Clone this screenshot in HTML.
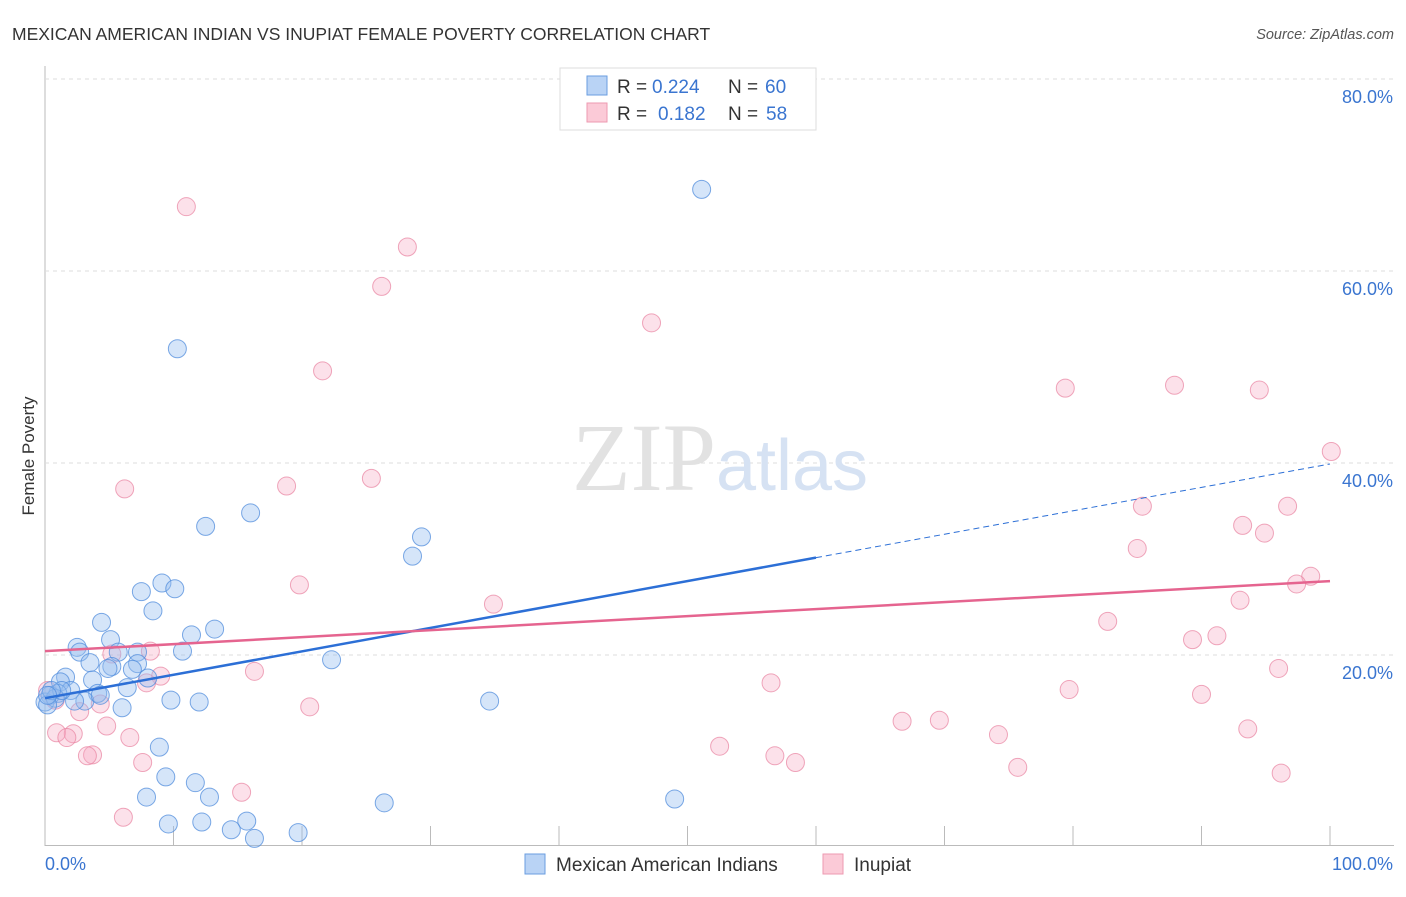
<!DOCTYPE html>
<html><head><meta charset="utf-8"><style>
body{margin:0;background:#fff;font-family:"Liberation Sans",sans-serif}
svg text{font-family:"Liberation Sans",sans-serif}
</style></head><body>
<svg id="c" width="1406" height="892" xmlns="http://www.w3.org/2000/svg">
<text x="12" y="40" font-size="17.5" fill="#333">MEXICAN AMERICAN INDIAN VS INUPIAT FEMALE POVERTY CORRELATION CHART</text>
<text x="1394" y="39" font-size="14.5" fill="#555" font-style="italic" text-anchor="end">Source: ZipAtlas.com</text>
<text x="34" y="456" font-size="17" fill="#333" transform="rotate(-90 34 456)" text-anchor="middle">Female Poverty</text>
<g id="grid"></g>
<text x="720" y="490" font-size="96" fill="#e4e4e4" text-anchor="middle" font-family="Liberation Serif"><tspan font-family="Liberation Serif" fill="#e2e2e2">ZIP</tspan><tspan font-family="Liberation Sans" font-size="72" fill="#d6e2f3">atlas</tspan></text>
<g id="pts"></g>
<g id="lines"></g>
<g>
<rect x="560" y="68" width="256" height="62" fill="#fff" stroke="#ddd"/>
<rect x="587" y="76" width="20" height="19" fill="#b9d3f5" stroke="#6a9ee0"/>
<rect x="587" y="103" width="20" height="19" fill="#fbcad7" stroke="#ee9ab0"/>
<text x="617" y="93" font-size="19" fill="#333">R =</text>
<text x="652" y="93" font-size="19" fill="#3a75d0">0.224</text>
<text x="728" y="93" font-size="19" fill="#333">N =</text>
<text x="765" y="93" font-size="19" fill="#3a75d0">60</text>
<text x="617" y="120" font-size="19" fill="#333">R =</text>
<text x="658" y="120" font-size="19" fill="#3a75d0">0.182</text>
<text x="728" y="120" font-size="19" fill="#333">N =</text>
<text x="766" y="120" font-size="19" fill="#3a75d0">58</text>
</g>
<g>
<rect x="525" y="854" width="20" height="20" fill="#b9d3f5" stroke="#6a9ee0"/>
<text x="556" y="871" font-size="19" fill="#333">Mexican American Indians</text>
<rect x="823" y="854" width="20" height="20" fill="#fbcad7" stroke="#ee9ab0"/>
<text x="854" y="871" font-size="19" fill="#333">Inupiat</text>
</g>
<text x="45" y="870" font-size="18" fill="#3a75d0">0.0%</text>
<text x="1393" y="870" font-size="18" fill="#3a75d0" text-anchor="end">100.0%</text>
</svg>
<script>
const yTicks=[20,40,60,80];
const xTicks=[0,10,20,30,40,50,60,70,80,90,100];
const blueX=[51.1,10.3,16.0,12.5,29.3,28.6,9.1,10.1,7.5,8.4,4.4,13.2,11.4,5.1,2.5,2.7,10.7,5.7,7.2,3.5,22.3,7.2,5.2,4.9,6.8,1.6,3.7,8.0,1.2,6.4,2.0,4.1,1.0,0.4,0.0,0.8,3.1,2.3,9.8,12.0,34.6,6.0,8.9,9.4,11.7,7.9,12.8,26.4,49.0,9.6,12.2,15.7,14.5,19.7,16.3,0.2,1.3,4.3,0.5,0.2];
const blueY=[68.5,51.9,34.8,33.4,32.3,30.3,27.5,26.9,26.6,24.6,23.4,22.7,22.1,21.6,20.8,20.3,20.4,20.3,20.3,19.2,19.5,19.1,18.8,18.6,18.5,17.7,17.4,17.6,17.2,16.6,16.3,16.0,16.0,15.8,15.1,15.5,15.2,15.2,15.3,15.1,15.2,14.5,10.4,7.3,6.7,5.2,5.2,4.6,5.0,2.4,2.6,2.7,1.8,1.5,0.9,14.8,16.3,15.8,16.3,15.8];
const pinkX=[11.0,28.2,26.2,47.2,21.6,79.4,87.9,94.5,100.1,6.2,18.8,25.4,85.4,96.7,93.2,94.9,85.0,19.8,34.9,98.5,97.4,93.0,82.7,89.3,91.2,8.2,5.2,16.3,9.0,7.9,96.0,56.5,79.7,90.0,20.6,2.7,4.3,0.2,0.8,4.8,0.9,2.2,1.7,6.6,66.7,69.6,74.2,93.6,52.5,3.7,3.3,56.8,7.6,58.4,75.7,96.2,15.3,6.1];
const pinkY=[66.7,62.5,58.4,54.6,49.6,47.8,48.1,47.6,41.2,37.3,37.6,38.4,35.5,35.5,33.5,32.7,31.1,27.3,25.3,28.2,27.4,25.7,23.5,21.6,22.0,20.4,20.1,18.3,17.8,17.1,18.6,17.1,16.4,15.9,14.6,14.1,14.9,16.3,15.3,12.6,11.9,11.8,11.4,11.4,13.1,13.2,11.7,12.3,10.5,9.6,9.5,9.5,8.8,8.8,8.3,7.7,5.7,3.1];
const blueTrend=[15.5,39.9];
const pinkTrend=[20.4,27.7];
const X0=45,X1=1330,Y0=847,YS=9.6;
const sx=v=>X0+(X1-X0)*v/100, sy=v=>Y0-v*YS;
const NS="http://www.w3.org/2000/svg";
function mk(t,a,p){const e=document.createElementNS(NS,t);for(const k in a)e.setAttribute(k,a[k]);p.appendChild(e);return e;}
const grid=document.getElementById('grid');
mk('line',{x1:45,y1:66,x2:45,y2:846,stroke:'#bbb'},grid);
mk('line',{x1:45,y1:845.5,x2:1394,y2:845.5,stroke:'#bbb'},grid);
mk('line',{x1:45,y1:79,x2:1394,y2:79,stroke:'#ddd','stroke-dasharray':'4 4'},grid);
yTicks.forEach(t=>{
 const l=mk('line',{x1:45,y1:sy(t),x2:1394,y2:sy(t),stroke:'#ddd','stroke-dasharray':'4 4'},grid);
 
 
 const tx=mk('text',{x:1393,y:sy(t)+24,'font-size':18,fill:'#3a75d0','text-anchor':'end'},grid);
 tx.textContent=t.toFixed(1)+'%';
 
 
});
xTicks.forEach(t=>{
 const l=mk('line',{x1:sx(t),y1:826,x2:sx(t),y2:846,stroke:'#bbb'},grid);
 
 
});
const pts=document.getElementById('pts');
pinkX.forEach((x,i)=>{
 const c=mk('circle',{cx:sx(x),cy:sy(pinkY[i]),r:9,fill:'rgba(245,170,195,0.35)',stroke:'rgba(232,130,160,0.7)','stroke-width':1},pts);
 
 
});
blueX.forEach((x,i)=>{
 const c=mk('circle',{cx:sx(x),cy:sy(blueY[i]),r:9,fill:'rgba(150,190,240,0.4)',stroke:'rgba(80,140,220,0.75)','stroke-width':1},pts);
 
 
});
const ln=document.getElementById('lines');
const bt=v=>blueTrend[0]+(blueTrend[1]-blueTrend[0])*v/100;
const pt=v=>pinkTrend[0]+(pinkTrend[1]-pinkTrend[0])*v/100;
let a=mk('line',{x1:sx(0),y1:sy(bt(0)),x2:sx(60),y2:sy(bt(60)),stroke:'#2c6fd6','stroke-width':2.5},ln);


a=mk('line',{x1:sx(60),y1:sy(bt(60)),x2:sx(100),y2:sy(bt(100)),stroke:'#2c6fd6','stroke-width':1,'stroke-dasharray':'6 4'},ln);


a=mk('line',{x1:sx(0),y1:sy(pt(0)),x2:sx(100),y2:sy(pt(100)),stroke:'#e5648f','stroke-width':2.5},ln);


</script>
</body></html>
